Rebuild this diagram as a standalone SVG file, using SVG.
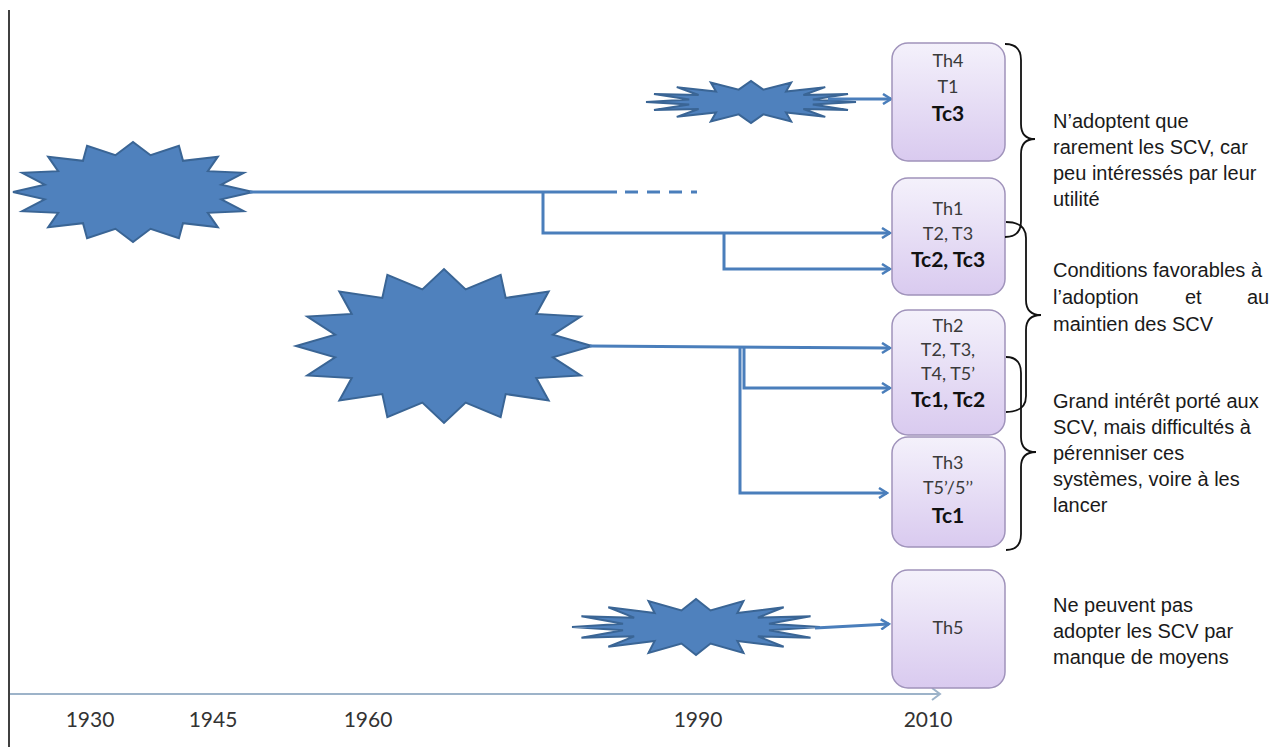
<svg xmlns="http://www.w3.org/2000/svg" xmlns:xlink="http://www.w3.org/1999/xlink" width="1279" height="747" viewBox="0 0 1279 747">
<style>
.star{fill:#4f81bd;stroke:#3a6595;stroke-width:2;}
.box{fill:url(#bg);stroke:#a093bb;stroke-width:1.5;}
.bt{font-family:Lato,"Open Sans",sans-serif;font-size:18px;fill:#3a3a3a;text-anchor:middle;}
.bb{font-family:Lato,"Open Sans",sans-serif;font-size:21px;font-weight:bold;fill:#111;text-anchor:middle;}
.conn{fill:none;stroke:#4a7ebb;stroke-width:3;}
.brace{fill:none;stroke:#111;stroke-width:1.8;}
.rt{font-family:"Liberation Sans",Arial,sans-serif;font-size:20px;fill:#1a1a1a;}
.yr{font-family:Lato,"Open Sans",sans-serif;font-size:21px;fill:#333;text-anchor:middle;}
</style>
<defs>
<linearGradient id="bg" x1="0" y1="0" x2="0" y2="1">
<stop offset="0" stop-color="#f4f1fb"/>
<stop offset="1" stop-color="#d9caef"/>
</linearGradient>
<path id="s75" vector-effect="non-scaling-stroke" d="M100,0 L73.56,-14.63 92.39,-38.27 62.36,-41.67 70.71,-70.71 41.67,-62.36 38.27,-92.39 14.63,-73.56 0,-100 -14.63,-73.56 -38.27,-92.39 -41.67,-62.36 -70.71,-70.71 -62.36,-41.67 -92.39,-38.27 -73.56,-14.63 -100,0 -73.56,14.63 -92.39,38.27 -62.36,41.67 -70.71,70.71 -41.67,62.36 -38.27,92.39 -14.63,73.56 0,100 14.63,73.56 38.27,92.39 41.67,62.36 70.71,70.71 62.36,41.67 92.39,38.27 73.56,14.63 Z"/>
<path id="s60" vector-effect="non-scaling-stroke" d="M100,0 L58.85,-11.71 92.39,-38.27 49.89,-33.34 70.71,-70.71 33.34,-49.89 38.27,-92.39 11.71,-58.85 0,-100 -11.71,-58.85 -38.27,-92.39 -33.34,-49.89 -70.71,-70.71 -49.89,-33.34 -92.39,-38.27 -58.85,-11.71 -100,0 -58.85,11.71 -92.39,38.27 -49.89,33.34 -70.71,70.71 -33.34,49.89 -38.27,92.39 -11.71,58.85 0,100 11.71,58.85 38.27,92.39 33.34,49.89 70.71,70.71 49.89,33.34 92.39,38.27 58.85,11.71 Z"/>
<marker id="ah" viewBox="0 0 12 12" refX="10" refY="6" markerWidth="12" markerHeight="12" markerUnits="userSpaceOnUse" orient="auto">
<path d="M2,1 L10,6 L2,11" fill="none" stroke="#4a7ebb" stroke-width="2.5"/>
</marker>
</defs>
<rect width="1279" height="747" fill="#fff"/>
<line x1="9" y1="10" x2="9" y2="747" stroke="#000" stroke-width="1.5"/>

<g id="stars">
<use xlink:href="#s75" href="#s75" class="star" transform="translate(133,192) scale(1.2,0.5)"/>
<use xlink:href="#s75" href="#s75" class="star" transform="translate(444,346) scale(1.48,0.77)"/>
<use xlink:href="#s60" href="#s60" class="star" transform="translate(751,102) scale(1.05,0.21)"/>
<use xlink:href="#s60" href="#s60" class="star" transform="translate(696,627) scale(1.24,0.28)"/>
</g>

<g id="connectors">
<path class="conn" d="M250,192 H617"/>
<path class="conn" d="M625,192 H697" stroke-dasharray="13 9"/>
<path class="conn" d="M543,192 V233 H890" marker-end="url(#ah)"/>
<path class="conn" d="M724,233 V269 H890" marker-end="url(#ah)"/>
<path class="conn" d="M828,99 H891" marker-end="url(#ah)"/>
<path class="conn" d="M590,346 L890,348" marker-end="url(#ah)"/>
<path class="conn" d="M744,347 V388 H890" marker-end="url(#ah)"/>
<path class="conn" d="M740,347 V493 H887" marker-end="url(#ah)"/>
<path class="conn" d="M815,628 L889,624" marker-end="url(#ah)"/>
<path d="M10,694 H940 M932,688 L940,694 L932,700" fill="none" stroke="#9db3c9" stroke-width="2"/>
</g>

<g id="box-th4">
<rect class="box" x="892" y="43" width="113" height="118" rx="16"/>
<text class="bt" x="948" y="67">Th4</text>
<text class="bt" x="948" y="93">T1</text>
<text class="bb" x="948" y="121">Tc3</text>
</g>
<g id="box-th1">
<rect class="box" x="892" y="178" width="113" height="117" rx="16"/>
<text class="bt" x="948" y="215">Th1</text>
<text class="bt" x="948" y="240">T2, T3</text>
<text class="bb" x="948" y="267">Tc2, Tc3</text>
</g>
<g id="box-th2">
<rect class="box" x="892" y="310" width="113" height="125" rx="16"/>
<text class="bt" x="948" y="332">Th2</text>
<text class="bt" x="948" y="356">T2, T3,</text>
<text class="bt" x="948" y="380">T4, T5’</text>
<text class="bb" x="948" y="407">Tc1, Tc2</text>
</g>
<g id="box-th3">
<rect class="box" x="892" y="437" width="113" height="110" rx="16"/>
<text class="bt" x="948" y="469">Th3</text>
<text class="bt" x="948" y="494">T5’/5’’</text>
<text class="bb" x="948" y="523">Tc1</text>
</g>
<g id="box-th5">
<rect class="box" x="892" y="570" width="113" height="118" rx="16"/>
<text class="bt" x="948" y="634">Th5</text>
</g>

<g id="braces">
<path class="brace" d="M1005,44 Q1021,44 1021,60 L1021,124 Q1021,139 1035,139 Q1021,139 1021,154 L1021,221 Q1021,237 1005,237"/>
<path class="brace" d="M1006,222 Q1026,222 1026,238 L1026,300 Q1026,315 1041,315 Q1026,315 1026,330 L1026,396 Q1026,412 1006,412"/>
<path class="brace" d="M1006,357 Q1021,357 1021,373 L1021,437 Q1021,452 1036,452 Q1021,452 1021,467 L1021,534 Q1021,550 1006,550"/>
</g>

<g id="labels">
<text class="rt" x="1053" y="128">N’adoptent que</text>
<text class="rt" x="1053" y="154">rarement les SCV, car</text>
<text class="rt" x="1053" y="180">peu intéressés par leur</text>
<text class="rt" x="1053" y="206">utilité</text>
<text class="rt" x="1053" y="277">Conditions favorables à</text>
<text class="rt" y="304"><tspan x="1053">l’adoption</tspan><tspan x="1185">et</tspan><tspan x="1247">au</tspan></text>
<text class="rt" x="1053" y="331">maintien des SCV</text>
<text class="rt" x="1053" y="408">Grand intérêt porté aux</text>
<text class="rt" x="1053" y="434">SCV, mais difficultés à</text>
<text class="rt" x="1053" y="460">pérenniser ces</text>
<text class="rt" x="1053" y="486">systèmes, voire à les</text>
<text class="rt" x="1053" y="512">lancer</text>
<text class="rt" x="1053" y="612">Ne peuvent pas</text>
<text class="rt" x="1053" y="638">adopter les SCV par</text>
<text class="rt" x="1053" y="664">manque de moyens</text>
</g>

<g id="years">
<text class="yr" x="90" y="727">1930</text>
<text class="yr" x="213" y="727">1945</text>
<text class="yr" x="368" y="727">1960</text>
<text class="yr" x="698" y="727">1990</text>
<text class="yr" x="928" y="727">2010</text>
</g>
</svg>
